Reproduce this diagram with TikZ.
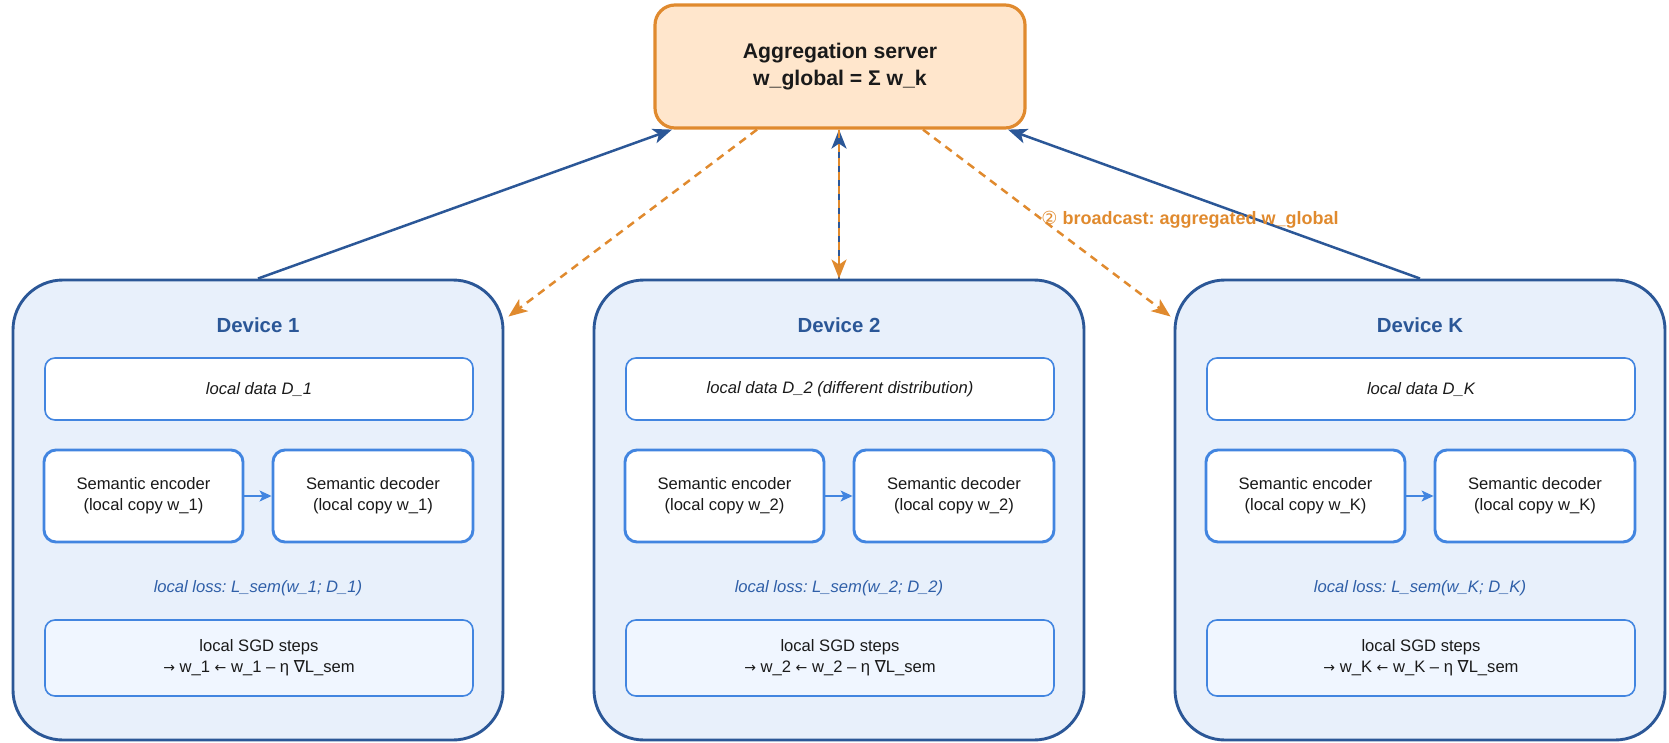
\documentclass[tikz,border=0pt]{standalone}
\usepackage{fontspec}
\setmainfont{Liberation Sans}
\newfontfamily\symfont{DejaVu Sans}
\usetikzlibrary{arrows.meta,calc}

\definecolor{devstroke}{HTML}{2B5797}
\definecolor{devfill}{HTML}{E8F0FB}
\definecolor{innerstroke}{HTML}{4285E0}
\definecolor{sgdfill}{HTML}{F0F6FF}
\definecolor{srvfill}{HTML}{FFE6CC}
\definecolor{srvstroke}{HTML}{E08A2E}
\definecolor{losscol}{HTML}{2F5FA8}
\definecolor{inktext}{HTML}{1A1A1A}

% small text arrows for the update rule
\newcommand{\ra}{{\symfont\fontsize{7}{8}\selectfont →}}
\newcommand{\la}{{\symfont\fontsize{7}{8}\selectfont ←}}

\begin{document}
\frenchspacing
\begin{tikzpicture}[x=0.5pt,y=-0.5pt,
  device/.style={draw=devstroke, line width=1.45pt, fill=devfill, rounded corners=25pt,
    minimum width=245pt, minimum height=230pt, inner sep=0pt},
  devtitle/.style={font=\bfseries\fontsize{10.2}{12}\selectfont, text=devstroke, inner sep=0pt},
  databox/.style={draw=innerstroke, line width=0.8pt, fill=white, rounded corners=5pt,
    minimum width=214pt, minimum height=31pt, inner sep=0pt,
    font=\itshape\fontsize{8.3}{10.5}\selectfont, text=inktext},
  model/.style={draw=innerstroke, line width=1.45pt, fill=white, rounded corners=6pt,
    minimum height=46pt, inner sep=0pt, align=center,
    font=\fontsize{8.3}{10.5}\selectfont, text=inktext},
  sgdbox/.style={draw=innerstroke, line width=0.8pt, fill=sgdfill, rounded corners=5pt,
    minimum width=214pt, minimum height=38pt, inner sep=0pt, align=center,
    font=\fontsize{8.3}{10.5}\selectfont, text=inktext},
  losstext/.style={font=\itshape\fontsize{8.3}{10.5}\selectfont, text=losscol, inner sep=0pt},
  server/.style={draw=srvstroke, line width=1.6pt, fill=srvfill, rounded corners=10pt,
    minimum width=185pt, minimum height=61.5pt, inner sep=0pt, align=center,
    font=\bfseries\fontsize{10.6}{13.5}\selectfont, text=inktext},
  uplink/.style={draw=devstroke, line width=1.25pt,
    -{Stealth[length=9.5pt,width=7.5pt,inset=2.5pt]}},
  bcast/.style={draw=srvstroke, line width=1.25pt, dash pattern=on 4pt off 3pt,
    -{Stealth[length=9.5pt,width=7.5pt,inset=2.5pt]}},
  flow/.style={draw=innerstroke, line width=0.7pt,
    -{Stealth[length=6pt,width=5.5pt,inset=1.5pt]}},
  bcastlabel/.style={font=\bfseries\fontsize{9}{11}\selectfont, text=srvstroke, inner sep=0pt}
]
\useasboundingbox (0,0) rectangle (1669,743);

% one panel per participating device
\foreach \x/\k/\dat in {13/1/{local data D\_1},
                        594/2/{local data D\_2 (different distribution)},
                        1175/K/{local data D\_K}} {
  \node[device] (dev\k) at (\x+245,510) {};
  \node[devtitle] (title\k) at (\x+245,325) {Device \k};
  \node[databox] (data\k) at (\x+246,389) {\dat};
  \node[model, minimum width=99.5pt] (enc\k) at (\x+130.5,496)
    {Semantic encoder\\(local copy w\_\k)};
  \node[model, minimum width=100pt] (dec\k) at (\x+360,496)
    {Semantic decoder\\(local copy w\_\k)};
  \draw[flow] (enc\k) -- (dec\k);
  \node[losstext] (loss\k) at (\x+245,588) {local loss: L\_sem(w\_\k; D\_\k)};
  \node[sgdbox] (sgd\k) at (\x+246,658)
    {local SGD steps\\\ra{} w\_\k{} \la{} w\_\k{} – η {\symfont ∇}L\_sem};
}

% central aggregation server
\node[server] (srv) at (840,66.5) {Aggregation server\\w\_global = Σ w\_k};

% uploads of local weights
\draw[uplink] (dev1.north) -- ($(srv.south)+(-168,0)$);
\draw[uplink] (devK.north) -- ($(srv.south)+(168,0)$);
\draw[uplink] (dev2.north) -- (dev2.north |- srv.south);

% broadcast of the global model
\coordinate (tip1) at ($(dev1.north east)+(4,38)$);
\coordinate (tipK) at ($(devK.north west)+(-3,38)$);
\draw[bcast] ($(srv.south)+(-83,0)$) -- (tip1);
\draw[bcast] ($(srv.south)+(83,0)$) -- (tipK);
\draw[bcast] (srv.south -| dev2.north) -- (dev2.north);

\node[bcastlabel, anchor=west] (lbl) at (1041,220)
  {{\symfont\mdseries ②} broadcast: aggregated w\_global};
\end{tikzpicture}
\end{document}
